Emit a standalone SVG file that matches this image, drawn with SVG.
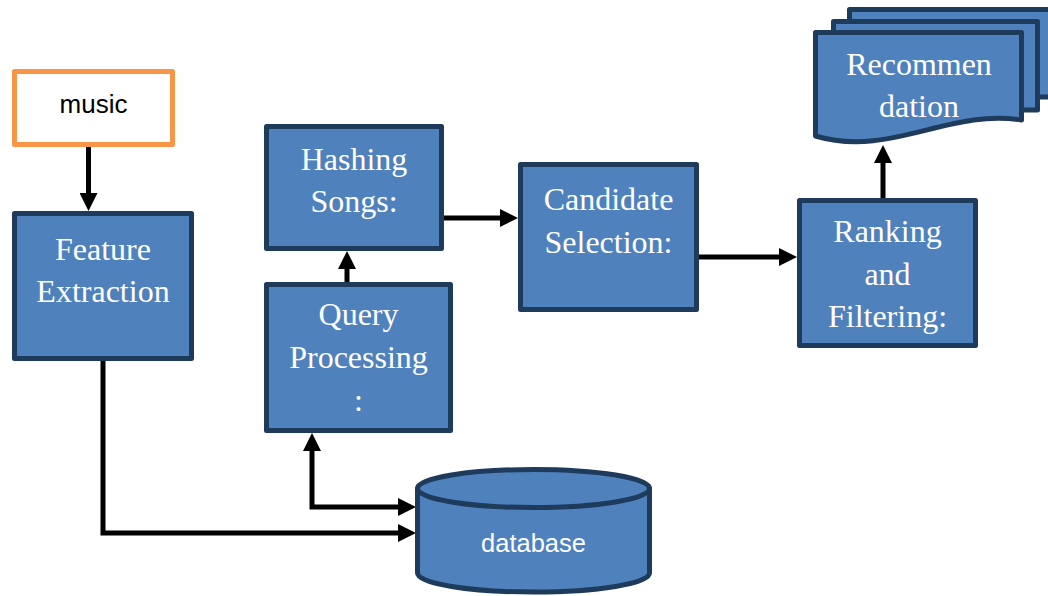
<svg xmlns="http://www.w3.org/2000/svg" width="1048" height="596" viewBox="0 0 1048 596">
  <style>
    .node { fill: #4F81BD; stroke: #1F3B5C; stroke-width: 5; stroke-linejoin: round; }
    .lbl { font-family: "Liberation Serif", "Times New Roman", serif; font-size: 32px; fill: #FFFFFF; text-anchor: middle; }
    .sans { font-family: "Liberation Sans", Arial, sans-serif; text-anchor: middle; }
    .conn { fill: none; stroke: #000000; stroke-width: 5; }
  </style>
  <defs>
    <marker id="arrow" markerUnits="userSpaceOnUse" markerWidth="18" markerHeight="18" viewBox="0 0 18 18" refX="1" refY="9" orient="auto-start-reverse">
      <path d="M0,0 L18,9 L0,18 z" fill="#000000"/>
    </marker>
  </defs>
  <rect width="1048" height="596" fill="#FFFFFF"/>

  <g id="connectors">
    <path class="conn" d="M88.5,147 V194" marker-end="url(#arrow)"/>
    <path class="conn" d="M103,361 V533 H399" marker-end="url(#arrow)"/>
    <path class="conn" d="M312,450 V507 H399" marker-start="url(#arrow)" marker-end="url(#arrow)"/>
    <path class="conn" d="M347,283 V268" marker-end="url(#arrow)"/>
    <path class="conn" d="M444,218 H501" marker-end="url(#arrow)"/>
    <path class="conn" d="M699,257 H780" marker-end="url(#arrow)"/>
    <path class="conn" d="M883,199 V162" marker-end="url(#arrow)"/>
  </g>

  <g id="music">
    <rect x="14.5" y="71.5" width="158" height="73" fill="#FFFFFF" stroke="#F79646" stroke-width="5" stroke-linejoin="round"/>
    <text class="sans" x="93.5" y="113" font-size="26" fill="#000000">music</text>
  </g>

  <g id="feature-extraction">
    <rect class="node" x="14.5" y="213.5" width="177" height="145"/>
    <text class="lbl" x="103" y="260">Feature</text>
    <text class="lbl" x="103" y="302">Extraction</text>
  </g>

  <g id="hashing-songs">
    <rect class="node" x="266.5" y="126.5" width="175" height="122"/>
    <text class="lbl" x="354" y="170">Hashing</text>
    <text class="lbl" x="354" y="212">Songs:</text>
  </g>

  <g id="query-processing">
    <rect class="node" x="266.5" y="284.5" width="184" height="146"/>
    <text class="lbl" x="358.5" y="325">Query</text>
    <text class="lbl" x="358.5" y="368">Processing</text>
    <text class="lbl" x="358.5" y="411">:</text>
  </g>

  <g id="candidate-selection">
    <rect class="node" x="520.5" y="164.5" width="176" height="145"/>
    <text class="lbl" x="608.5" y="210">Candidate</text>
    <text class="lbl" x="608.5" y="253">Selection:</text>
  </g>

  <g id="ranking-filtering">
    <rect class="node" x="799.5" y="200.5" width="176" height="145"/>
    <text class="lbl" x="887.5" y="242">Ranking</text>
    <text class="lbl" x="887.5" y="285">and</text>
    <text class="lbl" x="887.5" y="327">Filtering:</text>
  </g>

  <g id="recommendation">
    <path class="node" d="M849.5,9.5 H1054 V97 H849.5 Z"/>
    <path class="node" d="M833.5,21.5 H1037.5 V110 H833.5 Z"/>
    <path class="node" d="M815.5,32.5 H1021.5 V120 C950,108 890,158 815.5,136 Z"/>
    <text class="lbl" x="919" y="75">Recommen</text>
    <text class="lbl" x="919" y="117">dation</text>
  </g>

  <g id="database">
    <path class="node" d="M417.5,488.5 V573 A116,19 0 0 0 649.5,573 V488.5 Z"/>
    <ellipse class="node" cx="533.5" cy="488.5" rx="116" ry="19"/>
    <text class="sans" x="533.5" y="552" font-size="25.5" fill="#FFFFFF">database</text>
  </g>
</svg>
